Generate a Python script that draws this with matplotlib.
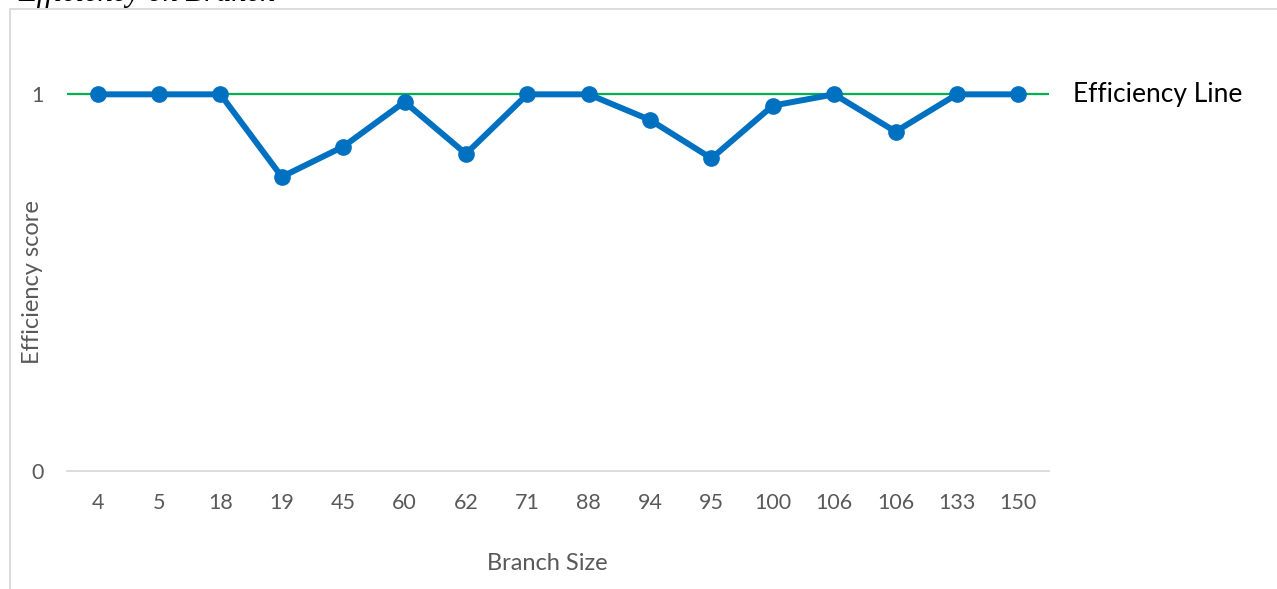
import matplotlib
matplotlib.use("Agg")
import matplotlib.pyplot as plt
from matplotlib.patches import Rectangle
import numpy as np

# Branch sizes (category labels) and their efficiency scores
branch_sizes = ["4", "5", "18", "19", "45", "60", "62", "71", "88",
                "94", "95", "100", "106", "106", "133", "150"]
efficiency = [1.0, 1.0, 1.0, 0.781, 0.861, 0.980, 0.842, 1.0, 1.0,
              0.932, 0.830, 0.970, 1.0, 0.901, 1.0, 1.0]
frontier_value = 1.0
y_ticks = [0, 1]

W, H = 1277, 589
fig = plt.figure(figsize=(W / 100, H / 100), dpi=100)
plt.rcParams["font.family"] = ["Lato", "DejaVu Sans"]

grey_text = "#595959"
frame_grey = "#d9d9d9"

# chart-area border (runs off the right and bottom edges)
fig.patches.append(Rectangle((10 / W, -0.1), 1.2, 1 - 9.5 / H + 0.1,
                             transform=fig.transFigure, fill=False,
                             edgecolor=frame_grey, linewidth=1.3,
                             zorder=0))

# title, clipped at the top of the canvas
fig.text(18 / W, 1 - 1.5 / H, "Efficiency on Branch", family="Liberation Serif",
         style="italic", fontsize=22, color="black", ha="left", va="baseline")

ax = fig.add_axes([67 / W, (H - 471) / H, (1049 - 67) / W, (471 - 19) / H])
x = np.arange(len(branch_sizes))

ax.axhline(frontier_value, color="#00B050", linewidth=1.6, zorder=2)
ax.plot(x, efficiency, color="#0070C0", linewidth=4.3, marker="o",
        markersize=11, solid_joinstyle="miter", zorder=3)

ax.set_xlim(-0.5, len(branch_sizes) - 0.5)
ax.set_ylim(0, 1.2)
ax.set_xticks(x)
ax.set_xticklabels(branch_sizes)
ax.set_yticks(y_ticks)
ax.set_yticklabels([str(v) for v in y_ticks])
ax.tick_params(axis="both", length=0, labelsize=15.5, colors=grey_text)
ax.tick_params(axis="x", pad=16)
ax.tick_params(axis="y", pad=17)

for side in ["top", "right", "left"]:
    ax.spines[side].set_visible(False)
ax.spines["bottom"].set_color(frame_grey)
ax.spines["bottom"].set_linewidth(1.3)
ax.patch.set_visible(False)

fig.text(547 / W, 1 - 563 / H, "Branch Size", fontsize=17, color=grey_text,
         ha="center", va="center")
fig.text(33 / W, 1 - 282 / H, "Efficiency score", fontsize=17, color=grey_text,
         ha="center", va="center", rotation=90)

ax.annotate("Efficiency Line", xy=(1, frontier_value),
            xycoords=("axes fraction", "data"), xytext=(24, 0),
            textcoords="offset pixels", fontsize=19, color="black",
            ha="left", va="center")

fig.savefig("out.png", dpi=100)
